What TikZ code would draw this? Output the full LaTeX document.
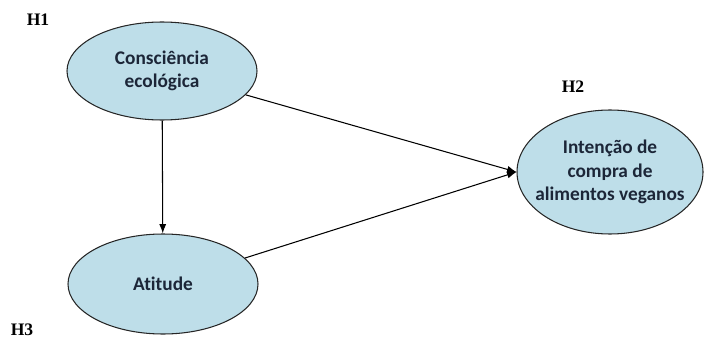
\documentclass[tikz,border=0pt]{standalone}
\usepackage{fontspec}
\setmainfont{Carlito}[Ligatures = NoCommon]
\newfontfamily\hfont{Liberation Serif}
\definecolor{elfill}{RGB}{190,222,233}
\definecolor{eltext}{RGB}{28,38,56}
\usetikzlibrary{shapes.geometric, arrows.meta}
\tikzset{
  construto/.style = {ellipse, draw = black!85, line width = 0.9pt, fill = elfill, align = center, text = eltext, inner xsep = -12pt, font = \bfseries\fontsize{16.5}{20}\selectfont},
  hlabel/.style = {font = \hfont\bfseries\fontsize{15}{17}\selectfont},
  seta/.style = {line width = 0.9pt, -{Latex[length = 8pt, width = 6pt]}}
}

\begin{document}
\begin{tikzpicture} [x = 0.3mm, y = -0.3mm]
\useasboundingbox (0, 0) rectangle (704, 340);
\node[construto, minimum width = 190*0.3mm, minimum height = 98*0.3mm] (consc) at (162, 71){Consciência\\ecológica};
\node[construto, minimum width = 190*0.3mm, minimum height = 100*0.3mm] (atit) at (163, 284){Atitude};
\node[construto, minimum width = 186*0.3mm, minimum height = 124*0.3mm, inner ysep = 0pt] (inten) at (610, 172){Intenção de\\compra de\\alimentos veganos};
\draw[seta] (consc) -- (atit);
\draw[seta] (consc) -- (inten.west);
\draw[seta] (atit) -- (inten.west);
\node[hlabel] (h1) at (38, 20){H1};
\node[hlabel] (h2) at (573, 87){H2};
\node[hlabel] (h3) at (22, 330){H3};
\end{tikzpicture}
\end{document}
